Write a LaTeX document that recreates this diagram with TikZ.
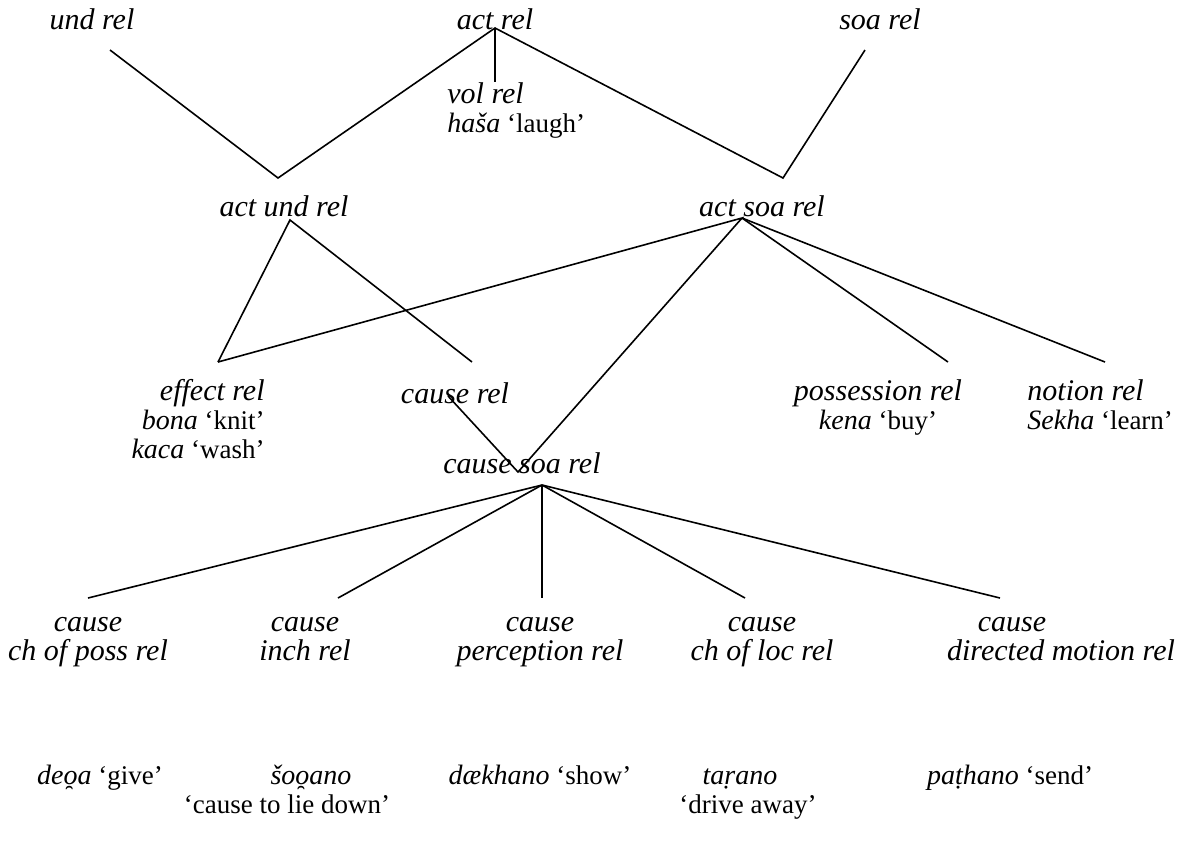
\documentclass[tikz,border=0pt]{standalone}
\usepackage{graphicx}
\usepackage{fontspec}
\setmainfont{Liberation Serif}
\usetikzlibrary{positioning}
\newcommand\relname[1]{{\fontsize{15}{14.5}\selectfont\itshape #1}}
\newcommand\verbform[1]{{\fontsize{14}{14.5}\selectfont\itshape #1}}
\newcommand\ibrv[1]{\ooalign{#1\cr\hidewidth\kern-0.1em\raisebox{0.42em}{\upshape\scalebox{0.9}[-0.9]{˘}}\hidewidth\cr}}

\begin{document}
\begin{tikzpicture}[
  x=0.5pt,y=-0.5pt,
  rel/.style={font=\fontsize{15}{14.5}\selectfont\itshape, inner sep=0pt, align=center},
  ex/.style={font=\fontsize{13.5}{14.5}\selectfont, inner sep=0pt, align=center},
  link/.style={line width=0.8pt}
]
\useasboundingbox (0,0) rectangle (1193,843);
\node[rel] (und) at (92,19) {und rel};
\node[rel] (act) at (495,19) {act rel};
\node[rel] (soa) at (880,19) {soa rel};
\node[ex, align=left, anchor=north west] (vol) at (447,82) {\strut\relname{vol rel}\\\verbform{haša} ‘laugh’};
\node[rel] (actund) at (284,206) {act und rel};
\node[rel] (actsoa) at (762,206) {act soa rel};
\node[ex, align=right, anchor=north east] (effect) at (265,379) {\strut\relname{effect rel}\\\verbform{bona} ‘knit’\\\verbform{kaca} ‘wash’};
\node[rel] (cause) at (455,393) {cause rel};
\node[rel] (causesoa) at (522,463) {cause soa rel};
\node[ex, anchor=north] (poss) at (878,379) {\strut\relname{possession rel}\\\verbform{kena} ‘buy’};
\node[ex, align=left, anchor=north west] (notion) at (1027,379) {\strut\relname{notion rel}\\\verbform{Sekha} ‘learn’};
\node[rel, anchor=north] (cposs) at (88,617) {cause\\ch of poss rel};
\node[rel, anchor=north] (cinch) at (305,617) {cause\\inch rel};
\node[rel, anchor=north] (cperc) at (540,617) {cause\\perception rel};
\node[rel, anchor=north] (cloc) at (762,617) {cause\\ch of loc rel};
\node[rel, anchor=north] (cmot) at (1061,617) {\hspace*{-49pt}cause\\directed motion rel};
\node[ex, anchor=north] (give) at (100,764) {\strut\verbform{de\ibrv{o}a} ‘give’};
\node[ex, anchor=north] (lie) at (287,764) {\strut\hspace*{24pt}\verbform{šo\ibrv{o}ano}\\‘cause to lie down’};
\node[ex, anchor=north] (show) at (540,764) {\strut\verbform{dækhano} ‘show’};
\node[ex, anchor=north] (drive) at (748,764) {\strut\hspace*{-8pt}\verbform{taṛano}\\‘drive away’};
\node[ex, anchor=north] (send) at (1010,764) {\strut\verbform{paṭhano} ‘send’};
\coordinate (und-e) at (110,50);
\coordinate (act-b) at (495,28);
\coordinate (vol-t) at (495,82);
\coordinate (soa-e) at (865,50);
\coordinate (actund-t) at (278,178);
\coordinate (actund-b) at (290,220);
\coordinate (actsoa-t) at (783,178);
\coordinate (actsoa-b) at (742,218);
\coordinate (effect-t) at (218,362);
\coordinate (cause-t) at (472,362);
\coordinate (cause-e) at (448,396);
\coordinate (causesoa-t) at (518,472);
\coordinate (causesoa-b) at (542,485);
\coordinate (poss-t) at (948,362);
\coordinate (notion-t) at (1105,362);
\coordinate (cposs-t) at (88,598);
\coordinate (cinch-t) at (338,598);
\coordinate (cperc-t) at (542,598);
\coordinate (cloc-t) at (745,598);
\coordinate (cmot-t) at (1000,598);
\draw[link] (und-e) -- (actund-t) -- (act-b) -- (actsoa-t) -- (soa-e);
\draw[link] (act-b) -- (vol-t);
\draw[link] (effect-t) -- (actund-b) -- (cause-t);
\draw[link] (effect-t) -- (actsoa-b) -- (causesoa-t) -- (cause-e);
\draw[link] (actsoa-b) -- (poss-t);
\draw[link] (actsoa-b) -- (notion-t);
\foreach \e in {cposs,cinch,cperc,cloc,cmot}
  \draw[link] (causesoa-b) -- (\e-t);
\end{tikzpicture}
\end{document}
